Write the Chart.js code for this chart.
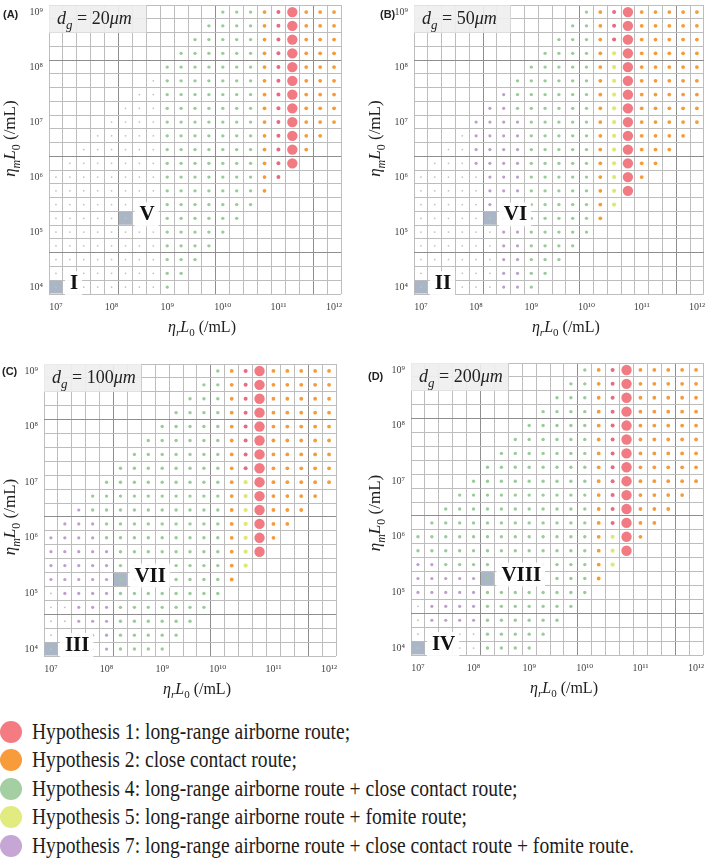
<!DOCTYPE html>
<html>
<head>
<meta charset="utf-8">
<title>Hypothesis map by dg</title>
<script src="https://cdn.jsdelivr.net/npm/chart.js@4.4.1/dist/chart.umd.min.js"></script>
<style>
  html, body { margin: 0; padding: 0; background: #ffffff; }
  body { position: relative; width: 709px; height: 858px; overflow: hidden; }
  canvas { position: absolute; }
  .hyp { position: absolute; left: 0; width: 700px; height: 22px; }
  .hyp .dot { position: absolute; left: 0; top: 0; width: 22px; height: 22px; border-radius: 50%; }
  .hyp .txt {
    position: absolute; left: 32px; top: -1px;
    font-family: "Liberation Serif", "DejaVu Serif", serif; font-size: 23px; line-height: 23px;
    color: #1c1c1c; white-space: nowrap;
    transform: scaleX(0.85); transform-origin: 0 0;
  }
</style>
</head>
<body>
<canvas id="pA" width="349" height="350"></canvas>
<canvas id="pB" width="349" height="350"></canvas>
<canvas id="pC" width="349" height="350"></canvas>
<canvas id="pD" width="349" height="350"></canvas>
<div id="legend"></div>
<script>
// grid levels (log10 of the concentration), top row of y first
const xLevels = [7, 7.25, 7.5, 7.75, 8, 8.25, 8.5, 8.75, 9, 9.25, 9.5, 9.75, 10, 10.25, 10.5, 10.75, 11, 11.25, 11.5, 11.75, 12];
const yLevels = [9, 8.75, 8.5, 8.25, 8, 7.75, 7.5, 7.25, 7, 6.75, 6.5, 6.25, 6, 5.75, 5.5, 5.25, 5, 4.75, 4.5, 4.25, 4];
const xTickExp = [7, 8, 9, 10, 11, 12];
const yTickExp = [4, 5, 6, 7, 8, 9];

const dgValues = ["20", "50", "100", "200"];
const panelTags = ["(A)", "(B)", "(C)", "(D)"];
const romanLow = ["I", "II", "III", "IV"];
const romanMid = ["V", "VI", "VII", "VIII"];
const markLow = [7, 4];
const markMid = [8.25, 5.25];

const hypotheses = [
  "Hypothesis 1: long-range airborne route;",
  "Hypothesis 2: close contact route;",
  "Hypothesis 4: long-range airborne route + close contact route;",
  "Hypothesis 5: long-range airborne route + fomite route;",
  "Hypothesis 7: long-range airborne route + close contact route + fomite route.",
];
const hypoColors = ["#f47b82", "#f89b3a", "#a3cfa3", "#e2eb80", "#c6a6d4"];

// cell codes: R big red (H1), r red, o orange (H2), g green (H4), y yellow (H5), p purple (H7), t tiny grey, . empty
const gridA = [
  "............gggorRooo",
  "...........ggggorRooo",
  "..........gggggorRooo",
  ".........ggggggorRooo",
  "........gggggggorRooo",
  ".......tgggggggorRooo",
  "......ttgggggggorRooo",
  ".....tttgggggggorRooo",
  "....ttttgggggggorRooo",
  "...tttttgggggggorRoo.",
  "..ttttttgggggggorRo..",
  ".tttttttgggggggorR...",
  "ttttttttgggggggor....",
  "ttttttttgggggggo.....",
  "ttttttttggggggg......",
  "ttttttttgggggg.......",
  "ttttttttggggg........",
  "ttttttttgggg.........",
  "ttttttttggg..........",
  "ttttttttgg...........",
  "ttttttttg............",
];
const gridB = [
  "............gorRooooo",
  "...........ggorRooooo",
  "..........gggorRooooo",
  ".........ggggoyRooooo",
  "........gggggoyRooooo",
  ".......ggggggoyRooooo",
  "......pggggggoyRooooo",
  ".....ppggggggoyRooooo",
  "....ppppgggggoyRooooo",
  "...tppppgggggoyRoooo.",
  "..ttppppgggggoyRooo..",
  ".tttppppgggggoyRoo...",
  "tttttpppgggggoyRo....",
  "tttttpppgggggoyR.....",
  "tttttpppgggggoy......",
  "ttttttppgggggo.......",
  "ttttttppggggg........",
  "ttttttppgggg.........",
  "ttttttppggg..........",
  "ttttttppgg...........",
  "ttttttppg............",
];
const gridC = [
  "............gorRooooo",
  "...........ggorRooooo",
  "..........gggorRooooo",
  ".........ggggorRooooo",
  "........gggggorRooooo",
  ".......ggggggorRooooo",
  "......gggggggorRooooo",
  ".....ggggggggorRooooo",
  "....gggggggggoyRooooo",
  "...ggggggggggoyRoooo.",
  "..pggggggggggoyRooo..",
  ".pppgggggggggoyRoo...",
  "ppppgggggggggoyRo....",
  "pppppggggggggoyR.....",
  "pppppggggggggoy......",
  "pppppggggggggo.......",
  "tppppgggggggg........",
  "ttpppggggggg.........",
  "ttpppgggggg..........",
  "ttpppggggg...........",
  "ttttpgggg............",
];
const gridD = [
  "............gorRooooo",
  "...........ggorRooooo",
  "..........gggorRooooo",
  ".........ggggorRooooo",
  "........gggggorRooooo",
  ".......ggggggorRooooo",
  "......gggggggorRooooo",
  ".....ggggggggorRooooo",
  "....gggggggggorRooooo",
  "...ggggggggggorRoooo.",
  "..gggggggggggorRooo..",
  ".ggggggggggggorRoo...",
  "gggggggggggggoyRo....",
  "gggggggggggggoyR.....",
  "ppgggggggggggoy......",
  "pppppggggggggo.......",
  "pppppgggggggg........",
  "tppppggggggg.........",
  "tppppgggggg..........",
  "tppttggggg...........",
  "tttttgggg............",
];
const grids = [gridA, gridB, gridC, gridD];

const dotStyle = {
  t: { color: "#bcc5bc", r: 0.9 },
  p: { color: "#bd9fcb", r: 1.6 },
  g: { color: "#9acb9a", r: 1.7 },
  y: { color: "#dde77a", r: 2.1 },
  o: { color: "#f59b3a", r: 1.9 },
  r: { color: "#ea6a82", r: 2.0 },
  R: { color: "#f27b83", r: 5.2 },
};

const layouts = [
  { canvas: "pA", left: 0, top: 0, gridLeft: 49, gridTop: 2, tag: [3, 18], yTitleX: -34, yTitleDY: -11 },
  { canvas: "pB", left: 360, top: 0, gridLeft: 414, gridTop: 2, tag: [380, 18], yTitleX: -34, yTitleDY: -11 },
  { canvas: "pC", left: 0, top: 355, gridLeft: 44, gridTop: 364, tag: [2, 375], yTitleX: -29, yTitleDY: 7 },
  { canvas: "pD", left: 360, top: 355, gridLeft: 411, gridTop: 363, tag: [368, 380], yTitleX: -31, yTitleDY: 4 },
];

const HALF = 0.125;
const GRID = 292, AXW = 40, AXH = 40, CW = 349, CH = 350;
const SERIF = '"Liberation Serif", "DejaVu Serif", serif';
const LINE = "#bdbdbd", DARK = "#8e8e8e";
const SUP = { "0": "\u2070", "1": "\u00b9", "2": "\u00b2", "3": "\u00b3", "4": "\u2074", "5": "\u2075", "6": "\u2076", "7": "\u2077", "8": "\u2078", "9": "\u2079" };

function sup(n) {
  return String(n).split("").map((c) => SUP[c]).join("");
}

function tickValues(levels, labels) {
  const hi = Math.max(...levels);
  const b = levels.map((v) => v - HALF);
  b.push(hi + HALF);
  return b.concat(labels).sort((a, c) => a - c).map((v) => ({ value: v }));
}

function buildSets(rows) {
  const order = ["t", "p", "g", "y", "o", "r", "R"];
  return order.map((k) => {
    const pts = [];
    rows.forEach((row, i) => {
      for (let j = 0; j < row.length; j++) {
        if (row[j] === k) pts.push({ x: xLevels[j], y: yLevels[i] });
      }
    });
    return {
      label: k,
      data: pts,
      pointRadius: dotStyle[k].r,
      pointHoverRadius: dotStyle[k].r,
      backgroundColor: dotStyle[k].color,
      borderWidth: 0,
    };
  });
}

function drawRich(ctx, parts, x, y, size, align) {
  const fontOf = (p) => (p.it ? "italic " : "") + (p.sub ? Math.round(size * 0.7) : size) + "px " + SERIF;
  let w = 0;
  parts.forEach((p) => {
    ctx.font = fontOf(p);
    p.w = ctx.measureText(p.t).width;
    w += p.w;
  });
  let cx = align === "center" ? x - w / 2 : x;
  ctx.textAlign = "left";
  ctx.textBaseline = "alphabetic";
  parts.forEach((p) => {
    ctx.font = fontOf(p);
    ctx.fillText(p.t, cx, y + (p.sub ? size * 0.28 : 0));
    cx += p.w;
  });
}

function axisTitle(sub) {
  return [
    { t: "\u03b7", it: true },
    { t: sub, it: true, sub: true },
    { t: "L", it: true },
    { t: "0", sub: true },
    { t: " (/mL)" },
  ];
}

function cellRect(chart, xv, yv) {
  const xs = chart.scales.x, ys = chart.scales.y;
  return {
    l: xs.getPixelForValue(xv - HALF),
    r: xs.getPixelForValue(xv + HALF),
    t: ys.getPixelForValue(yv + HALF),
    b: ys.getPixelForValue(yv - HALF),
  };
}

function makeDecor(i) {
  const L = layouts[i];
  return {
    id: "decor" + i,
    beforeDatasetsDraw(chart) {
      const ctx = chart.ctx;
      ctx.save();
      ctx.fillStyle = "#aab5c6";
      [markLow, markMid].forEach((m) => {
        const c = cellRect(chart, m[0], m[1]);
        ctx.fillRect(c.l + 0.5, c.t + 0.5, c.r - c.l - 1, c.b - c.t - 1);
      });
      ctx.restore();
    },
    afterDatasetsDraw(chart) {
      const ctx = chart.ctx;
      const area = chart.chartArea;
      ctx.save();
      // d_g box
      const a = cellRect(chart, xLevels[0], yLevels[0]);
      const b = cellRect(chart, xLevels[6], yLevels[1]);
      ctx.fillStyle = "rgba(238,238,238,0.9)";
      ctx.fillRect(a.l, a.t, b.r - a.l, b.b - a.t);
      ctx.fillStyle = "#222";
      drawRich(ctx, [
        { t: "d", it: true },
        { t: "g", it: true, sub: true },
        { t: " = " + dgValues[i] },
        { t: "\u03bcm", it: true },
      ], area.left + 8, area.top + 19, 18, "left");

      // roman numeral labels
      [[markLow, romanLow[i]], [markMid, romanMid[i]]].forEach(([m, txt]) => {
        const c = cellRect(chart, m[0], m[1]);
        const x = c.r + 7;
        const y = (c.t + c.b) / 2 + 2;
        ctx.font = "bold 21px " + SERIF;
        const w = ctx.measureText(txt).width;
        ctx.fillStyle = "rgba(255,255,255,0.9)";
        ctx.fillRect(c.r + 2, y - 18, w + 9, 24);
        ctx.fillStyle = "#111";
        ctx.textAlign = "left";
        ctx.textBaseline = "alphabetic";
        ctx.fillText(txt, x, y);
      });
      ctx.restore();
    },
    afterDraw(chart) {
      const ctx = chart.ctx;
      const area = chart.chartArea;
      ctx.save();
      ctx.fillStyle = "#222";
      drawRich(ctx, axisTitle("r"), (area.left + area.right) / 2 + 7, area.bottom + 37.5, 16, "center");
      ctx.translate(area.left + L.yTitleX, (area.top + area.bottom) / 2 + L.yTitleDY);
      ctx.rotate(-Math.PI / 2);
      drawRich(ctx, axisTitle("m"), 0, 0, 17, "center");
      ctx.restore();

      ctx.save();
      ctx.font = 'bold 11px "Liberation Sans", Arial, sans-serif';
      ctx.fillStyle = "#222";
      ctx.textAlign = "left";
      ctx.textBaseline = "alphabetic";
      ctx.fillText(panelTags[i], L.tag[0] - L.left, L.tag[1] - L.top);
      ctx.restore();
    },
  };
}

function makeChart(i) {
  const L = layouts[i];
  const cv = document.getElementById(L.canvas);
  cv.style.left = L.left + "px";
  cv.style.top = L.top + "px";
  const padLeft = L.gridLeft - L.left - AXW;
  const padRight = CW - (L.gridLeft - L.left) - GRID;
  const padTop = L.gridTop - L.top;
  const padBottom = CH - padTop - GRID - AXH;

  const xMin = xLevels[0] - HALF, xMax = xLevels[xLevels.length - 1] + HALF;
  const yMin = yLevels[yLevels.length - 1] - HALF, yMax = yLevels[0] + HALF;

  const gridColor = (axis) => (c) => {
    const v = c.tick ? c.tick.value : undefined;
    if (v === undefined) return LINE;
    if (Number.isInteger(v)) return "rgba(0,0,0,0)";
    const k = axis === "x" ? Math.round((v - xMin) / 0.25) : Math.round((yMax - v) / 0.25);
    const dark = axis === "x" ? k % 7 === 5 : k % 7 === 4;
    return dark ? DARK : LINE;
  };

  new Chart(cv, {
    type: "scatter",
    data: { datasets: buildSets(grids[i]) },
    options: {
      responsive: false,
      animation: false,
      devicePixelRatio: 1,
      events: [],
      layout: { padding: { left: padLeft, right: padRight, top: padTop, bottom: padBottom } },
      plugins: { legend: { display: false }, tooltip: { enabled: false } },
      scales: {
        x: {
          type: "linear",
          min: xMin,
          max: xMax,
          afterBuildTicks: (s) => { s.ticks = tickValues(xLevels, xTickExp); },
          afterFit: (s) => { s.height = AXH; s.paddingLeft = 0; s.paddingRight = 0; },
          border: { display: false },
          grid: { color: gridColor("x"), lineWidth: 1, drawTicks: false },
          ticks: {
            autoSkip: false,
            maxRotation: 0,
            padding: 7,
            color: "#444",
            font: { family: SERIF, size: 10 },
            callback: (v) => (xTickExp.includes(v) ? "10" + sup(v) : ""),
          },
        },
        y: {
          type: "linear",
          min: yMin,
          max: yMax,
          afterBuildTicks: (s) => { s.ticks = tickValues(yLevels, yTickExp); },
          afterFit: (s) => { s.width = AXW; s.paddingTop = 0; s.paddingBottom = 0; },
          border: { display: false },
          grid: { color: gridColor("y"), lineWidth: 1, drawTicks: false },
          ticks: {
            autoSkip: false,
            padding: 6,
            color: "#444",
            font: { family: SERIF, size: 10 },
            callback: (v) => (yTickExp.includes(v) ? "10" + sup(v) : ""),
          },
        },
      },
    },
    plugins: [makeDecor(i)],
  });
}

for (let i = 0; i < 4; i++) makeChart(i);

// legend
const legend = document.getElementById("legend");
hypotheses.forEach((h, i) => {
  const item = document.createElement("div");
  item.className = "hyp";
  item.style.top = (721 + i * 28.4) + "px";
  const dot = document.createElement("div");
  dot.className = "dot";
  dot.style.background = hypoColors[i];
  const txt = document.createElement("div");
  txt.className = "txt";
  txt.textContent = h;
  item.appendChild(dot);
  item.appendChild(txt);
  legend.appendChild(item);
});
</script>
</body>
</html>
